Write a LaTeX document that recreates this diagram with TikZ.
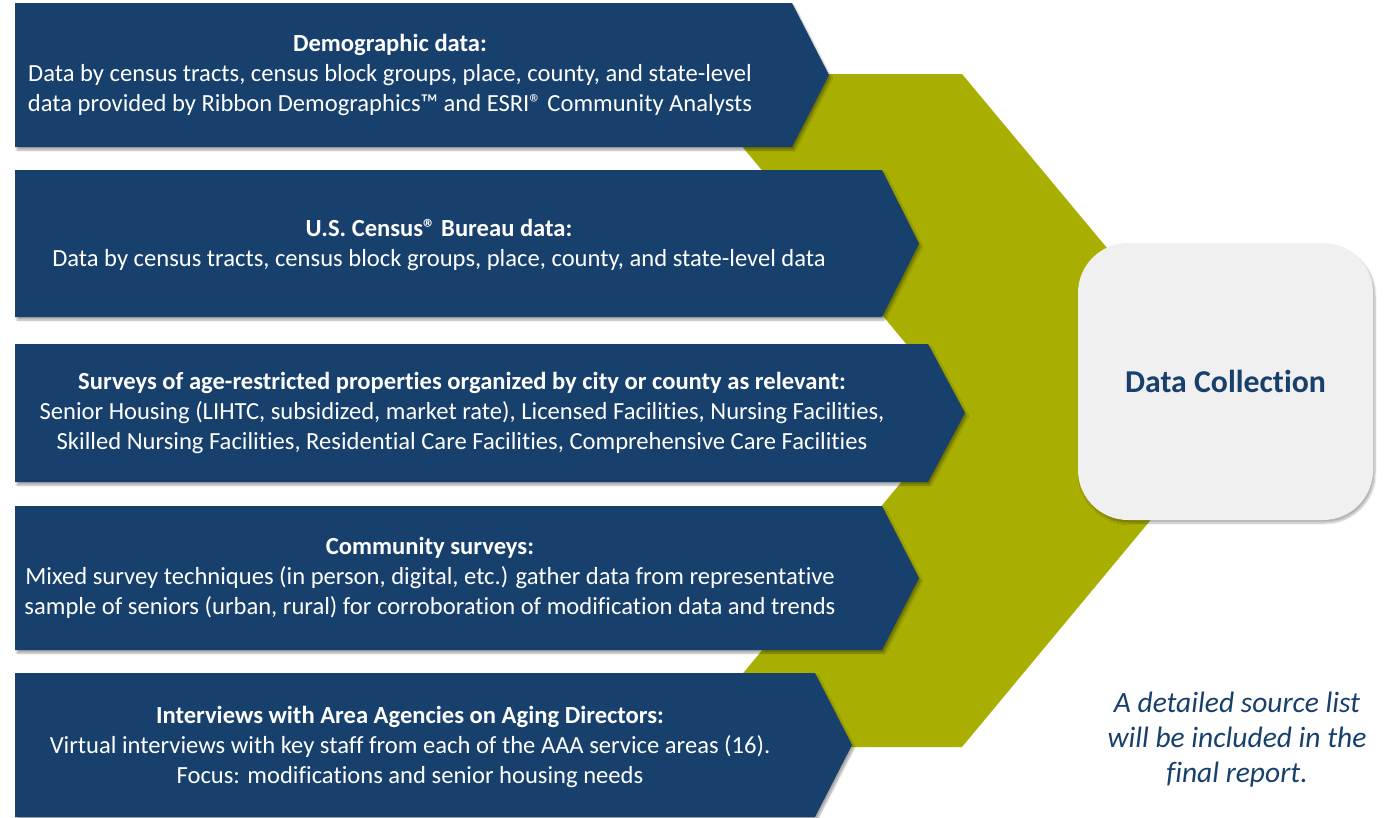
\documentclass[tikz,border=0pt]{standalone}
\usepackage{fontspec}
\setmainfont{Carlito}[Ligatures=NoCommon]
\usetikzlibrary{shadows,shadows.blur}
\definecolor{navy}{HTML}{17406D}
\definecolor{olive}{HTML}{A8AF00}
\definecolor{panel}{HTML}{F0F0F0}
\begin{document}
\begin{tikzpicture}[x=1pt,y=-1pt,
  chev/.style={fill=navy, draw=none, blur shadow={shadow xshift=2pt, shadow yshift=-3pt, shadow blur steps=6, shadow opacity=35}},
  chevtext/.style={text=white, align=center, font=\fontsize{24.6}{30}\selectfont, inner sep=0pt},
  note/.style={text=navy, align=center, font=\fontsize{29.5}{35}\selectfont\itshape, inner sep=0pt}]
\useasboundingbox (0,0) rectangle (1384,817);
% big olive chevron
\fill[olive] (682,74) -- (962,74) -- (1242,410) -- (962,747) -- (682,747) -- (961,410) -- cycle;
% data collection panel
\node[draw=none, fill=panel, rounded corners=50pt, minimum width=295pt, minimum height=277pt,
  blur shadow={shadow xshift=2pt, shadow yshift=-3pt, shadow blur steps=8, shadow opacity=30},
  text=navy, font=\fontsize{31.8}{36}\selectfont\bfseries] (dc) at (1225.5,381.5) {Data Collection};
% blue chevrons
\path[chev] (15,3) -- (792,3) -- (829,75) -- (792,147) -- (15,147) -- cycle;
\path[chev] (15,170) -- (882,170) -- (919,243.5) -- (882,317) -- (15,317) -- cycle;
\path[chev] (15,344) -- (928,344) -- (965,413) -- (928,482) -- (15,482) -- cycle;
\path[chev] (15,506) -- (882,506) -- (919,578) -- (882,650) -- (15,650) -- cycle;
\path[chev] (15,673) -- (815,673) -- (852,745) -- (815,817) -- (15,817) -- cycle;
% texts
\node[chevtext] (t1) at (390,75) {\textbf{Demographic data:}\\Data by census tracts, census block groups, place, county, and state-level\\data provided by Ribbon Demographics™ and ESRI® Community Analysts};
\node[chevtext] (t2) at (439,245) {\textbf{U.S. Census® Bureau data:}\\Data by census tracts, census block groups, place, county, and state-level data};
\node[chevtext] (t3) at (462,413) {\textbf{Surveys of age-restricted properties organized by city or county as relevant:}\\Senior Housing (LIHTC, subsidized, market rate), Licensed Facilities, Nursing Facilities,\\Skilled Nursing Facilities, Residential Care Facilities, Comprehensive Care Facilities};
\node[chevtext] (t4) at (430,578) {\textbf{Community surveys:}\\Mixed survey techniques (in person, digital, etc.) gather data from representative\\sample of seniors (urban, rural) for corroboration of modification data and trends};
\node[chevtext] (t5) at (410,747) {\textbf{Interviews with Area Agencies on Aging Directors:}\\Virtual interviews with key staff from each of the AAA service areas (16).\\Focus: modifications and senior housing needs};
\node[note] (n) at (1237,740) {A detailed source list\\will be included in the\\final report.};
\end{tikzpicture}
\end{document}
